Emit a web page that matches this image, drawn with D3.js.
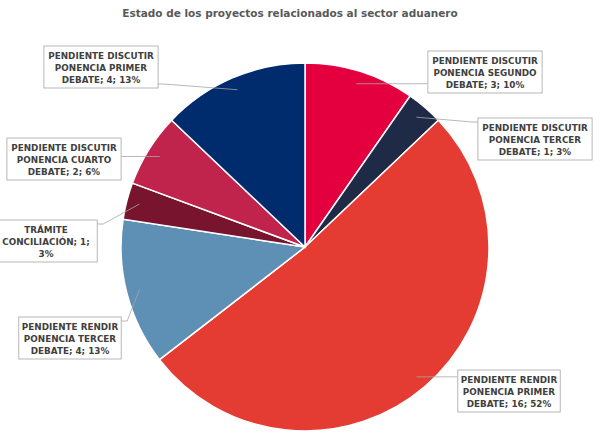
<!DOCTYPE html>
<html><head><meta charset="utf-8">
<script src="https://cdn.jsdelivr.net/npm/d3@7"></script>
<style>body{margin:0;background:#fff}</style>
</head><body>
<svg id="chart" width="601" height="435"></svg>
<script>
var categories = ["PENDIENTE DISCUTIR PONENCIA SEGUNDO DEBATE","PENDIENTE DISCUTIR PONENCIA TERCER DEBATE","PENDIENTE RENDIR PONENCIA PRIMER DEBATE","PENDIENTE RENDIR PONENCIA TERCER DEBATE","TRÁMITE CONCILIACIÓN","PENDIENTE DISCUTIR PONENCIA CUARTO DEBATE","PENDIENTE DISCUTIR PONENCIA PRIMER DEBATE"];
var values = [3, 1, 16, 4, 1, 2, 4];
var colors = ["#e4003f","#1e2a46","#e43b32","#5e8fb5","#78142d","#c0234b","#002b6c"];
var labelLines = [
  ["PENDIENTE DISCUTIR","PONENCIA SEGUNDO","DEBATE; 3; 10%"],
  ["PENDIENTE DISCUTIR","PONENCIA TERCER","DEBATE; 1; 3%"],
  ["PENDIENTE RENDIR","PONENCIA PRIMER","DEBATE; 16; 52%"],
  ["PENDIENTE RENDIR","PONENCIA TERCER","DEBATE; 4; 13%"],
  ["TRÁMITE","CONCILIACIÓN; 1;","3%"],
  ["PENDIENTE DISCUTIR","PONENCIA CUARTO","DEBATE; 2; 6%"],
  ["PENDIENTE DISCUTIR","PONENCIA PRIMER","DEBATE; 4; 13%"]
];
// label box centres
var labelPos = [[485,72],[535,139],[509,391],[70,338],[46,241],[64,159],[101,67]];

var svg = d3.select("#chart");
var cx = 305, cy = 247, r = 184;

svg.append("text").attr("x", 290).attr("y", 17).attr("text-anchor", "middle")
  .attr("font-family", "DejaVu Sans").attr("font-size", 10.5).attr("font-weight", "bold")
  .attr("fill", "#595959").text("Estado de los proyectos relacionados al sector aduanero");

var pie = d3.pie().sort(null).value(function(d) { return d; });
var arcs = pie(values);
var arc = d3.arc().innerRadius(0).outerRadius(r);
var g = svg.append("g").attr("transform", "translate(" + cx + "," + cy + ")");
g.selectAll("path").data(arcs).enter().append("path")
  .attr("d", arc).attr("fill", function(d, i) { return colors[i]; })
  .attr("stroke", "#fff").attr("stroke-width", 1.5);

var edge = d3.arc().innerRadius(r * 0.93).outerRadius(r * 0.93);
arcs.forEach(function(a, i) {
  var p = edge.centroid(a);
  var lp = labelPos[i];
  var lines = labelLines[i];
  var w = d3.max(lines, function(s) { return s.length; }) * 5.9 + 8;
  var h = lines.length * 12 + 6;
  var bx = lp[0] - w / 2, by = lp[1] - h / 2;
  var tx = p[0] + cx < lp[0] ? bx : bx + w;
  var ty = Math.max(by + 4, Math.min(by + h - 4, p[1] + cy));
  svg.append("polyline")
    .attr("points", [[p[0] + cx, p[1] + cy], [tx + (tx === bx ? -6 : 6), ty], [tx, ty]].join(" "))
    .attr("fill", "none").attr("stroke", "#a6a6a6").attr("stroke-width", 0.8);
  svg.append("rect").attr("x", bx).attr("y", by).attr("width", w).attr("height", h)
    .attr("fill", "#fff").attr("stroke", "#a6a6a6").attr("stroke-width", 0.8);
  var t = svg.append("text").attr("font-family", "DejaVu Sans").attr("font-size", 8.8)
    .attr("font-weight", "bold").attr("fill", "#404040").attr("text-anchor", "middle");
  lines.forEach(function(s, k) {
    t.append("tspan").attr("x", lp[0]).attr("y", by + 13 + k * 12).text(s);
  });
});
</script>
</body></html>
